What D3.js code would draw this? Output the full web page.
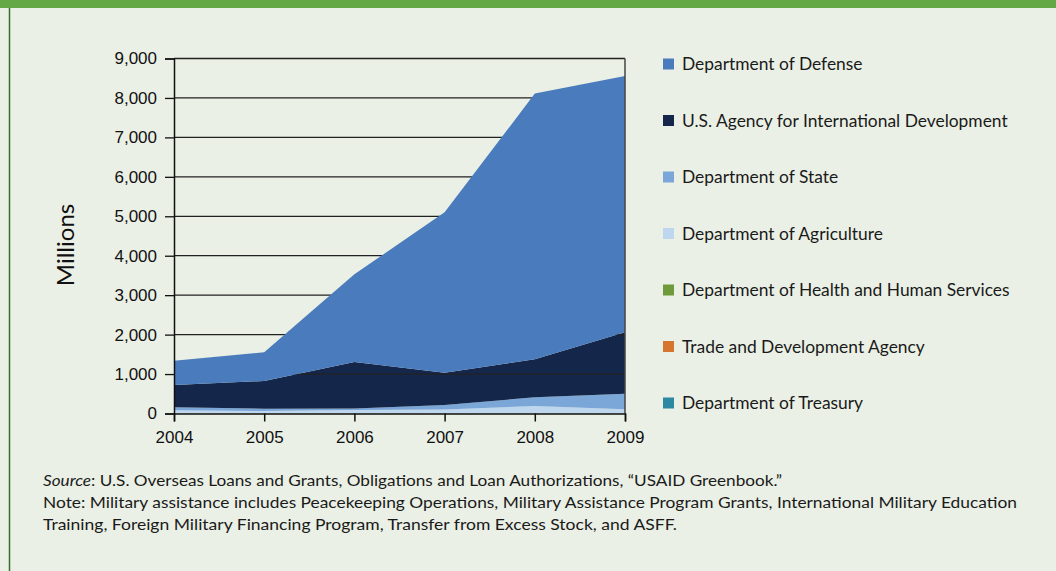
<!DOCTYPE html>
<html>
  <head>
    <style>
      body { margin: 0; background: #eaf0e5; }
      svg { display: block; font-family: Lato, "Open Sans", sans-serif; }
      .tick text { font-size: 17px; fill: #111; }
      .legend-label { font-size: 17.4px; fill: #1a1a1a; }
      .footer { font-size: 16px; fill: #1a1a1a; }
    </style>
  </head>
  <body>
    <script src="https://d3js.org/d3.v7.min.js"></script>
    <script>
      // data (millions)
      const years = [2004, 2005, 2006, 2007, 2008, 2009];
      const agencies = [
        'Department of Defense',
        'U.S. Agency for International Development',
        'Department of State',
        'Department of Agriculture',
        'Department of Health and Human Services',
        'Trade and Development Agency',
        'Department of Treasury'
      ];
      const colors = ['#4a7bbd', '#14264a', '#7ba6d8', '#bfd6ef', '#6f9a3a', '#d6762e', '#2d88a1'];
      const defense = [618, 726, 2225, 4065, 6736, 6502];
      const usaid = [565, 702, 1180, 820, 964, 1556];
      const state = [77, 59, 37, 115, 220, 396];
      const agriculture = [75, 58, 83, 95, 185, 100];
      const hhs = [3, 3, 3, 3, 3, 3];
      const tda = [1, 1, 1, 1, 1, 1];
      const treasury = [1, 1, 1, 1, 1, 1];
      const yTicks = [0, 1000, 2000, 3000, 4000, 5000, 6000, 7000, 8000, 9000];

      const seriesValues = [defense, usaid, state, agriculture, hhs, tda, treasury];

      const width = 1056, height = 571;
      const svg = d3.select('body').append('svg')
        .attr('width', width)
        .attr('height', height);

      // frame
      svg.append('rect').attr('x', 0).attr('y', 0).attr('width', width).attr('height', height).attr('fill', '#eaf0e5');
      svg.append('rect').attr('x', 0).attr('y', 0).attr('width', width).attr('height', 8).attr('fill', '#63a844');
      svg.append('line').attr('x1', 9.5).attr('x2', 9.5).attr('y1', 8).attr('y2', height)
        .attr('stroke', '#3d6b2c').attr('stroke-width', 1.5);

      const x = d3.scaleLinear().domain([2004, 2009]).range([174, 625]);
      const y = d3.scaleLinear().domain([0, 9000]).range([413.5, 58.5]);

      // stack table built from the arrays, bottom layer = last agency
      const table = years.map((yr, i) => {
        const row = { year: yr };
        agencies.forEach((a, k) => { row[a] = seriesValues[k][i]; });
        return row;
      });
      const stackOrder = agencies.slice().reverse();
      const stacked = d3.stack().keys(stackOrder)(table);
      const colorOf = d3.scaleOrdinal().domain(agencies).range(colors);

      const area = d3.area()
        .x(d => x(d.data.year))
        .y0(d => y(d[0]))
        .y1(d => y(d[1]));

      const drawGrid = () => {
        svg.append('g')
          .selectAll('line')
          .data(yTicks.filter(t => t > 0))
          .join('line')
          .attr('x1', x(2004)).attr('x2', x(2009))
          .attr('y1', d => y(d)).attr('y2', d => y(d))
          .attr('stroke', '#222').attr('stroke-width', 1.3);
      };

      const lowerLayers = stacked.filter(s => s.key !== 'Department of Defense');
      const topLayer = stacked.filter(s => s.key === 'Department of Defense');

      svg.append('g').selectAll('path').data(lowerLayers).join('path')
        .attr('d', area).attr('fill', d => colorOf(d.key));
      drawGrid();
      svg.append('g').selectAll('path').data(topLayer).join('path')
        .attr('d', area).attr('fill', d => colorOf(d.key));

      // right border
      svg.append('line').attr('x1', x(2009)).attr('x2', x(2009)).attr('y1', y(9000)).attr('y2', y(0))
        .attr('stroke', '#444').attr('stroke-width', 1.5);

      // axes
      const yAxis = svg.append('g')
        .attr('transform', `translate(${x(2004)},0)`)
        .call(d3.axisLeft(y).tickValues(yTicks).tickFormat(d3.format(',')).tickSize(9).tickPadding(8));
      yAxis.select('.domain').attr('stroke', '#111').attr('stroke-width', 1.5);
      yAxis.selectAll('.tick line').attr('stroke', '#111').attr('stroke-width', 1.3);

      const xAxis = svg.append('g')
        .attr('transform', `translate(0,${y(0)})`)
        .call(d3.axisBottom(x).tickValues(years).tickFormat(d3.format('d')).tickSize(8).tickPadding(9));
      xAxis.select('.domain').attr('stroke', '#111').attr('stroke-width', 1.5);
      xAxis.selectAll('.tick line').attr('stroke', '#111').attr('stroke-width', 1.5);

      svg.append('text')
        .attr('transform', 'translate(74,245) rotate(-90)')
        .attr('text-anchor', 'middle')
        .attr('font-size', 24)
        .attr('fill', '#111')
        .text('Millions');

      // legend
      const legend = svg.append('g').selectAll('g').data(agencies).join('g')
        .attr('transform', (d, i) => `translate(663,${64 + i * 56.5})`);
      legend.append('rect').attr('x', 0).attr('y', -5.5).attr('width', 11).attr('height', 11)
        .attr('fill', d => colorOf(d));
      legend.append('text').attr('class', 'legend-label')
        .attr('x', 19).attr('y', 6).text(d => d);

      // footer
      const foot = svg.append('g').attr('class', 'footer');
      const l1 = foot.append('text').attr('x', 43).attr('y', 486)
        .attr('textLength', 739).attr('lengthAdjust', 'spacingAndGlyphs');
      l1.append('tspan').attr('font-style', 'italic').text('Source');
      l1.append('tspan').text(':  U.S. Overseas Loans and Grants, Obligations and Loan Authorizations, \u201cUSAID Greenbook.\u201d');
      foot.append('text').attr('x', 43).attr('y', 508)
        .attr('textLength', 974).attr('lengthAdjust', 'spacingAndGlyphs')
        .text('Note: Military assistance includes Peacekeeping Operations, Military Assistance Program Grants, International Military Education');
      foot.append('text').attr('x', 43).attr('y', 530)
        .attr('textLength', 634).attr('lengthAdjust', 'spacingAndGlyphs')
        .text('Training, Foreign Military Financing Program, Transfer from Excess Stock, and ASFF.');
    </script>
  </body>
</html>
